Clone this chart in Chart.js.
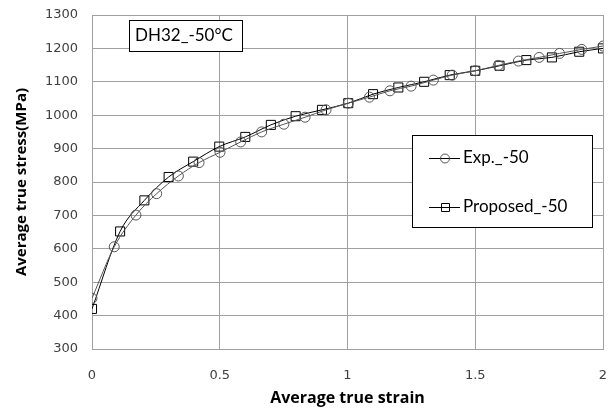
<!DOCTYPE html>
<html>
<head>
<meta charset="utf-8">
<script src="https://cdn.jsdelivr.net/npm/chart.js@4/dist/chart.umd.min.js"></script>
<style>
  html, body { margin: 0; padding: 0; background: #fff; overflow: hidden; }
  canvas { display: block; }
</style>
</head>
<body>
<canvas id="stressChart" width="614" height="410"></canvas>
<script>
// values
const expStrain = [0, 0.087, 0.172, 0.253, 0.338, 0.419, 0.501, 0.582, 0.664, 0.751, 0.834, 0.916, 1.003, 1.086, 1.166, 1.249, 1.336, 1.41, 1.5, 1.59, 1.669, 1.75, 1.83, 1.917, 2.0];
const expStress = [452, 606, 701, 765, 818, 858, 889, 920, 950, 973, 994, 1016, 1036, 1054, 1073, 1087, 1105, 1120, 1133, 1149, 1162, 1173, 1185, 1197, 1207];

const propStrain = [0, 0.11, 0.205, 0.3, 0.396, 0.498, 0.6, 0.7, 0.797, 0.9, 1.003, 1.1, 1.199, 1.3, 1.4, 1.5, 1.595, 1.7, 1.8, 1.907, 2.0];
const propStress = [420, 652, 745, 815, 861, 906, 935, 971, 997, 1016, 1036, 1063, 1083, 1100, 1120, 1133, 1148, 1165, 1173, 1190, 1200];

const xTicks = [0, 0.5, 1, 1.5, 2];
const yTicks = [300, 400, 500, 600, 700, 800, 900, 1000, 1100, 1200, 1300];
const chartLabel = 'DH32_-50°C';

function toPoints(xs, ys) {
    return xs.map((x, i) => ({ x: x, y: ys[i] }));
}

// legend box + the DH32 label, drawn like the excel chart
const boxesPlugin = {
    id: 'boxes',
    afterDraw(chart) {
        const ctx = chart.ctx;
        ctx.save();
        ctx.lineWidth = 1;
        ctx.strokeStyle = '#000';
        ctx.fillStyle = '#fff';

        // label box
        ctx.fillRect(129.5, 20.5, 113, 31);
        ctx.strokeRect(129.5, 20.5, 113, 31);
        ctx.fillStyle = '#000';
        ctx.font = '17px Lato';
        ctx.textBaseline = 'middle';
        ctx.textAlign = 'left';
        ctx.fillText(chartLabel, 135, 36);

        // legend box
        ctx.fillStyle = '#fff';
        ctx.fillRect(412.5, 135.5, 180, 92);
        ctx.strokeRect(412.5, 135.5, 180, 92);

        const rows = [158, 207];
        chart.data.datasets.forEach((ds, i) => {
            const y = rows[i];
            ctx.strokeStyle = '#000';
            ctx.beginPath();
            ctx.moveTo(429, y + 0.5);
            ctx.lineTo(460, y + 0.5);
            ctx.stroke();
            ctx.strokeStyle = ds.pointBorderColor;
            ctx.beginPath();
            if (ds.pointStyle === 'rect') {
                ctx.rect(441.5, y - 3.5, 8, 8);
            } else {
                ctx.arc(445, y + 0.5, 4.5, 0, Math.PI * 2);
            }
            ctx.stroke();
            ctx.fillStyle = '#000';
            ctx.font = '17px Lato';
            ctx.fillText(ds.label, 463, y);
        });
        ctx.restore();
    }
};

const ctx = document.getElementById('stressChart').getContext('2d');
const stressChart = new Chart(ctx, {
    type: 'line',
    data: {
        datasets: [{
            label: 'Exp._-50',
            data: toPoints(expStrain, expStress),
            borderColor: '#555',
            borderWidth: 1,
            pointStyle: 'circle',
            pointRadius: 5,
            pointBorderColor: '#555',
            pointBackgroundColor: 'rgba(0,0,0,0)',
            pointBorderWidth: 1,
            cubicInterpolationMode: 'monotone'
        },
        {
            label: 'Proposed_-50',
            data: toPoints(propStrain, propStress),
            borderColor: '#000',
            borderWidth: 1,
            pointStyle: 'rect',
            pointRadius: 6.4,
            pointBorderColor: '#000',
            pointBackgroundColor: 'rgba(0,0,0,0)',
            pointBorderWidth: 1,
            cubicInterpolationMode: 'monotone'
        }]
    },
    options: {
        responsive: false,
        animation: false,
        layout: { autoPadding: false, padding: { top: 15, right: 11, left: 0, bottom: 0 } },
        plugins: {
            legend: { display: false },
            tooltip: { enabled: false }
        },
        scales: {
            x: {
                type: 'linear',
                min: 0,
                max: 2,
                afterBuildTicks: s => { s.ticks = xTicks.map(v => ({ value: v })); },
                afterFit: s => { s.height = 61; },
                grid: { color: '#a0a0a0', tickLength: 16, tickColor: 'rgba(0,0,0,0)' },
                border: { color: '#a0a0a0' },
                ticks: {
                    padding: 3,
                    maxRotation: 0,
                    color: '#404040',
                    font: { family: 'DejaVu Sans', size: 13 },
                    callback: v => String(v)
                },
                title: {
                    display: true,
                    text: 'Average true strain',
                    color: '#000',
                    font: { family: 'Open Sans', size: 16, weight: 'bold' },
                    padding: { top: 0, bottom: 2 }
                }
            },
            y: {
                min: 300,
                max: 1300,
                afterBuildTicks: s => { s.ticks = yTicks.map(v => ({ value: v })); },
                afterFit: s => { s.width = 92; },
                grid: { color: '#a0a0a0', tickLength: 11, tickColor: 'rgba(0,0,0,0)' },
                border: { color: '#a0a0a0' },
                ticks: {
                    padding: 3,
                    color: '#404040',
                    font: { family: 'DejaVu Sans', size: 13 },
                    callback: v => String(v)
                },
                title: {
                    display: true,
                    text: 'Average true stress(MPa)',
                    color: '#000',
                    font: { family: 'Open Sans', size: 15, weight: 'bold' },
                    padding: { top: 13, bottom: 0 }
                }
            }
        }
    },
    plugins: [boxesPlugin]
});
</script>
</body>
</html>
